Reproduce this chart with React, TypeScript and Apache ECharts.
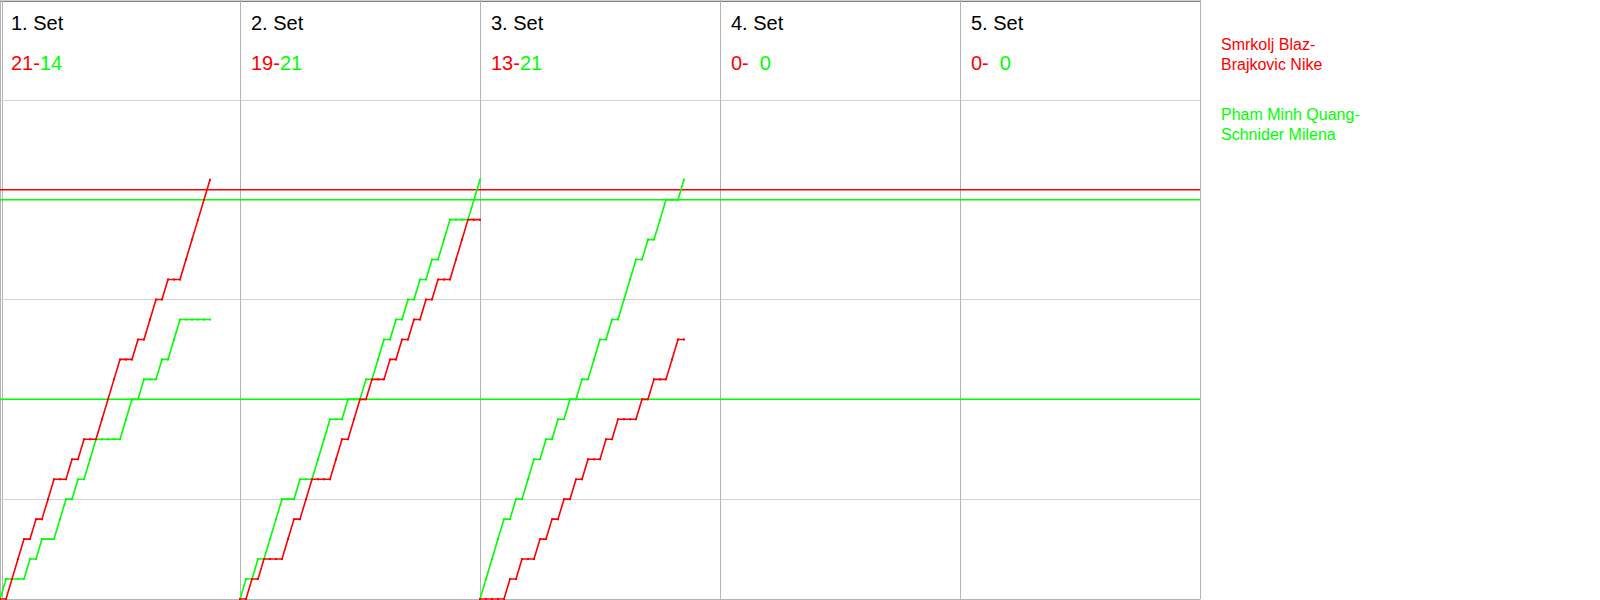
import React, { useEffect, useRef } from "react";
import * as echarts from "echarts";

const RED = "#ff0000";
const GREEN = "#00ff00";
const FONT = '"Liberation Sans", Arial, sans-serif';

const setTitles = ["1. Set", "2. Set", "3. Set", "4. Set", "5. Set"];
const redScores = [21, 19, 13, 0, 0];
const greenScores = [14, 21, 21, 0, 0];
const redNames = ["Smrkolj Blaz-", "Brajkovic Nike"];
const greenNames = ["Pham Minh Quang-", "Schnider Milena"];

// rally winners per set (R = red pair, G = green pair)
const set1Rallies = ["G","R","R","R","G","R","G","R","R","G","G","R","G","R","G","G","R","R","R","R","G","G","R","G","R","R","G","R","G","G","R","R","R","R","R"];
const set2Rallies = ["G","R","G","R","G","G","G","R","R","G","R","R","G","G","G","R","R","G","R","R","G","R","G","G","R","G","R","G","R","G","R","G","R","G","G","R","R","R","G","G"];
const set3Rallies = ["G","G","G","G","R","G","R","G","G","R","G","R","G","R","G","R","G","R","G","G","R","G","R","G","G","G","R","G","R","G","G","R","R","G"];
const allRallies = [set1Rallies, set2Rallies, set3Rallies];

const ralliesPerSet = 40;
const setCount = 5;
const scoreMax = 30;
const redMarks = [20.5];
const greenMarks = [20, 10];

function thresholdSeries(v: number, color: string) {
  return {
    type: "line",
    color,
    data: [
      [0, v],
      [ralliesPerSet * setCount, v],
    ],
    showSymbol: false,
    silent: true,
    lineStyle: { color, width: 1.5 },
    z: 2,
  };
}

function buildSeries() {
  const series: any[] = [];
  greenMarks.forEach((v) => series.push(thresholdSeries(v, GREEN)));
  redMarks.forEach((v) => series.push(thresholdSeries(v, RED)));
  allRallies.forEach((rallies, k) => {
    const base = k * ralliesPerSet;
    let r = 0;
    let g = 0;
    const redData: number[][] = [[base, 0]];
    const greenData: number[][] = [[base, 0]];
    rallies.forEach((w, i) => {
      if (w === "R") r += 1;
      else g += 1;
      redData.push([base + i + 1, r]);
      greenData.push([base + i + 1, g]);
    });
    series.push({
      type: "line",
      color: GREEN,
      data: greenData,
      symbol: "rect",
      symbolSize: 2,
      showSymbol: true,
      lineStyle: { color: GREEN, width: 1.6 },
      itemStyle: { color: GREEN },
      z: 3,
    });
    series.push({
      type: "line",
      color: RED,
      data: redData,
      symbol: "rect",
      symbolSize: 2,
      showSymbol: true,
      lineStyle: { color: RED, width: 1.6 },
      itemStyle: { color: RED },
      z: 4,
    });
  });
  return series;
}

function buildGraphics() {
  const els: any[] = [];
  setTitles.forEach((t, k) => {
    const x0 = k * 240 + 11;
    els.push({
      type: "text",
      x: x0,
      y: 23,
      style: { text: t, fill: "#000", fontSize: 20, fontFamily: FONT, verticalAlign: "middle" },
    });
    const gPad = greenScores[k] < 10 ? 11 : 0;
    els.push({
      type: "text",
      x: x0,
      y: 63,
      style: {
        text: `{r|${redScores[k]}-}{s|}{g|${greenScores[k]}}`,
        fontSize: 20,
        fontFamily: FONT,
        verticalAlign: "middle",
        rich: {
          r: { fill: RED, color: RED, fontSize: 20, fontFamily: FONT },
          s: { width: gPad, fontSize: 20 },
          g: { fill: GREEN, color: GREEN, fontSize: 20, fontFamily: FONT },
        },
      },
    });
  });
  const legendY = [44.5, 64, 114.5, 134];
  [...redNames, ...greenNames].forEach((n, i) => {
    els.push({
      type: "text",
      x: 1221,
      y: legendY[i],
      style: { text: n, fill: i < 2 ? RED : GREEN, fontSize: 16, fontFamily: FONT, verticalAlign: "middle" },
    });
  });
  els.push({ type: "line", shape: { x1: 0, y1: 0.5, x2: 1201, y2: 0.5 }, style: { stroke: "#000", lineWidth: 2 } });
  els.push({ type: "line", shape: { x1: 2.5, y1: 0, x2: 2.5, y2: 600 }, style: { stroke: "#b4b4b4", lineWidth: 1 } });
  return els;
}

export default function App() {
  const ref = useRef<HTMLDivElement>(null);
  useEffect(() => {
    if (!ref.current) return;
    const chart = echarts.init(ref.current, undefined, { renderer: "svg" });
    chart.setOption({
      animation: false,
      backgroundColor: "#fff",
      grid: { left: 0, top: 0, width: 1200, height: 599, containLabel: false },
      xAxis: {
        type: "value",
        min: 0,
        max: ralliesPerSet * setCount,
        interval: ralliesPerSet,
        axisLabel: { show: false },
        axisTick: { show: false },
        axisLine: { show: true, lineStyle: { color: "#b4b4b4", width: 1 } },
        splitLine: { show: true, lineStyle: { color: "#b4b4b4", width: 1 } },
      },
      yAxis: {
        type: "value",
        min: 0,
        max: scoreMax,
        interval: 5,
        axisLabel: { show: false },
        axisTick: { show: false },
        axisLine: { show: false },
        splitLine: { show: true, lineStyle: { color: "#d3d3d3", width: 1 } },
      },
      series: buildSeries(),
      graphic: buildGraphics(),
    });
    return () => chart.dispose();
  }, []);
  return (
    <div
      ref={ref}
      style={{ position: "fixed", left: 0, top: 0, width: 1600, height: 600, background: "#fff" }}
    />
  );
}
